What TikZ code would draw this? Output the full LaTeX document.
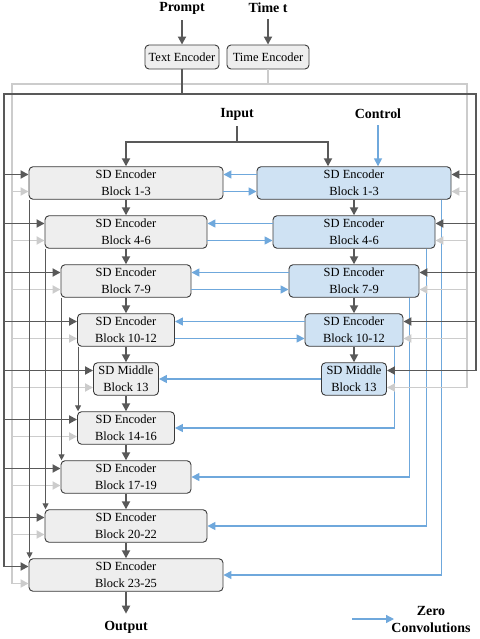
\documentclass[tikz,border=0pt]{standalone}
\usepackage{fontspec}
\setmainfont{Liberation Serif}
\usetikzlibrary{arrows.meta,calc}
\definecolor{dk}{HTML}{595959}
\definecolor{lg}{HTML}{CCCCCC}
\definecolor{bl}{HTML}{6FA8DC}
\definecolor{gfill}{HTML}{EEEEEE}
\definecolor{bfill}{HTML}{CFE2F3}
\definecolor{bord}{HTML}{3A3A3A}
\begin{document}
\begin{tikzpicture}[x=1bp,y=-1bp,
  blk/.style={draw=bord,line width=0.9bp,rounded corners=4bp,minimum height=32.5bp,inner sep=0pt,align=center,font=\fontsize{12.5}{17}\selectfont},
  sdl/.style={blk,fill=gfill},
  sdr/.style={blk,fill=bfill},
  enc/.style={draw=bord,line width=0.9bp,rounded corners=4bp,fill=gfill,minimum height=24bp,inner sep=0pt,font=\fontsize{12.5}{15}\selectfont},
  lbl/.style={font=\bfseries\fontsize{14}{17}\selectfont,inner sep=0pt},
  dkline/.style={draw=dk,line width=1.8bp},
  dkarr/.style={dkline,-{Triangle[length=8bp,width=8bp]}},
  lgline/.style={draw=lg,line width=1.8bp},
  lgarr/.style={lgline,-{Triangle[length=8bp,width=8bp]}},
  blline/.style={draw=bl,line width=1.6bp},
  blarr/.style={blline,-{Triangle[length=8bp,width=8bp]}},
  skiparr/.style={draw=dk,line width=1bp,-{Triangle[length=6bp,width=6bp]}}
]
\useasboundingbox (0,0) rectangle (480,639);

% top labels and encoders
\node[lbl] (PR) at (182,8) {Prompt};
\node[lbl] (TT) at (268,8) {Time t};
\node[enc,minimum width=74bp] (TE) at (182,57) {Text Encoder};
\node[enc,minimum width=82bp] (TiE) at (268,57) {Time Encoder};
\draw[dkarr,shorten <=6bp] (PR.south) -- (TE.north);
\draw[dkarr,shorten <=6bp] (TT.south) -- (TiE.north);

\node[lbl] (IN) at (237,114) {Input};
\node[lbl] (CT) at (378,114) {Control};

% left blocks
\node[sdl,minimum width=194bp] (L1) at (126,183) {SD Encoder\\Block 1-3};
\node[sdl,minimum width=162bp] (L2) at (126,232) {SD Encoder\\Block 4-6};
\node[sdl,minimum width=130bp] (L3) at (126,281) {SD Encoder\\Block 7-9};
\node[sdl,minimum width=97bp] (L4) at (126,330) {SD Encoder\\Block 10-12};
\node[sdl,minimum width=65bp] (LM) at (126,379) {SD Middle\\Block 13};
\node[sdl,minimum width=97bp] (L5) at (126,428) {SD Encoder\\Block 14-16};
\node[sdl,minimum width=130bp] (L6) at (126,477) {SD Encoder\\Block 17-19};
\node[sdl,minimum width=162bp] (L7) at (126,526) {SD Encoder\\Block 20-22};
\node[sdl,minimum width=194bp] (L8) at (126,575) {SD Encoder\\Block 23-25};

% right blocks
\node[sdr,minimum width=194bp] (R1) at (354,183) {SD Encoder\\Block 1-3};
\node[sdr,minimum width=162bp] (R2) at (354,232) {SD Encoder\\Block 4-6};
\node[sdr,minimum width=130bp] (R3) at (354,281) {SD Encoder\\Block 7-9};
\node[sdr,minimum width=98bp] (R4) at (354,330) {SD Encoder\\Block 10-12};
\node[sdr,minimum width=65bp] (RM) at (354,379) {SD Middle\\Block 13};

\node[lbl] (OUT) at (126,627) {Output};

% bus coordinates
\coordinate (dTL) at (4,94);
\coordinate (dTR) at (476,94);
\coordinate (lTL) at (12,84);
\coordinate (lTR) at (467,84);

% blue skip connections (right side)
\foreach \r/\l/\dx in {R1/L8/-10,R2/L7/-9,R3/L6/-10,R4/L5/-9}{
  \path ($(\r.south east)+(\dx,0)$) coordinate (s);
  \draw[blarr] (s) -- (s |- \l.east) -- (\l.east);
}

% light bus
\path ($(L8.west)+(0,8.5)$) coordinate (lbot);
\path ($(RM.east)+(0,8.5)$) coordinate (rbot);
\draw[lgline] (TiE.south) -- (TiE.south |- lTL);
\draw[lgline] (lTL |- lbot) -- (lTL) -- (lTR) -- (lTR |- rbot);
\foreach \n in {L1,L2,L3,L4,LM,L5,L6,L7,L8}{
  \path ($(\n.west)+(0,8.5)$) coordinate (t);
  \draw[lgarr] (lTL |- t) -- (t);
}
\foreach \n in {R1,R2,R3,R4,RM}{
  \path ($(\n.east)+(0,8.5)$) coordinate (t);
  \draw[lgarr] (lTR |- t) -- (t);
}

% dark bus
\path ($(L8.west)+(0,-8.5)$) coordinate (dbot);
\path ($(RM.east)+(0,-8.5)$) coordinate (drbot);
\draw[dkline] (TE.south) -- (TE.south |- dTL);
\draw[dkline] (dTL |- dbot) -- (dTL) -- (dTR) -- (dTR |- drbot);
\foreach \n in {L1,L2,L3,L4,LM,L5,L6,L7,L8}{
  \path ($(\n.west)+(0,-8.5)$) coordinate (t);
  \draw[dkarr] (dTL |- t) -- (t);
}
\foreach \n in {R1,R2,R3,R4,RM}{
  \path ($(\n.east)+(0,-8.5)$) coordinate (t);
  \draw[dkarr] (dTR |- t) -- (t);
}

% input / control
\coordinate (inj) at (237,142);
\path ($(R1.north)+(-26,0)$) coordinate (r1in);
\draw[dkline,shorten <=6bp] (IN.south) -- (inj);
\draw[dkarr] (inj) -| (L1.north);
\draw[dkarr] (inj) -| (r1in);
\draw[blarr,shorten <=6bp] (CT.south) -- (CT.south |- R1.north);

% main vertical chains
\foreach \a/\b in {L1/L2,L2/L3,L3/L4,L4/LM,LM/L5,L5/L6,L6/L7,L7/L8,R1/R2,R2/R3,R3/R4,R4/RM}{
  \draw[dkarr] (\a.south) -- (\b.north);
}
\draw[dkarr,shorten >=7bp] (L8.south) -- (OUT.north);

% left skip connections
\foreach \a/\b in {L1/L8,L2/L7,L3/L6,L4/L5}{
  \draw[skiparr] ($(\a.south west)+(1,0)$) -- ($(\b.north west)+(1,0)$);
}

% zero convolutions between columns
\foreach \l/\r in {L1/R1,L2/R2,L3/R3,L4/R4}{
  \draw[blarr] ($(\r.west)+(0,-8.5)$) -- ($(\l.east)+(0,-8.5)$);
  \draw[blarr] ($(\l.east)+(0,8.5)$) -- ($(\r.west)+(0,8.5)$);
}
\draw[blarr] (RM.west) -- (LM.east);

% legend
\coordinate (lg1) at (352,619);
\coordinate (lg2) at (394,619);
\draw[blarr,line width=1.3bp] (lg1) -- (lg2);
\node[lbl,align=center] (ZC) at (431,619.5) {Zero\\Convolutions};
\end{tikzpicture}
\end{document}
